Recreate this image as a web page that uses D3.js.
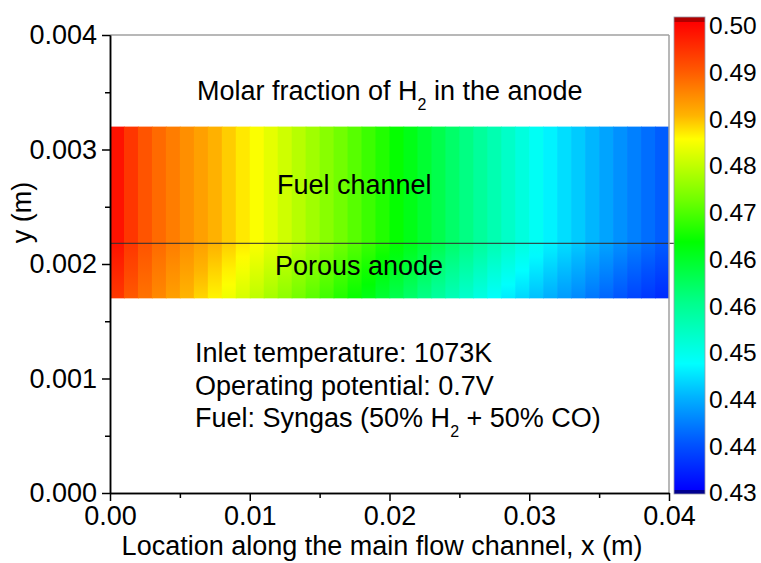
<!DOCTYPE html>
<html>
<head>
<meta charset="utf-8">
<script src="https://cdn.jsdelivr.net/npm/d3@7/dist/d3.min.js"></script>
<style>
  body { margin: 0; background: #fff; }
  svg text { font-family: "Liberation Sans", Arial, sans-serif; fill: #000; }
</style>
</head>
<body>
<svg id="chart" width="761" height="563"></svg>
<script>
// ---- data ----
// left edges of the 1 mm grid columns along the channel (m)
const cellX = [
  0.000, 0.001, 0.002, 0.003, 0.004, 0.005, 0.006, 0.007, 0.008, 0.009,
  0.010, 0.011, 0.012, 0.013, 0.014, 0.015, 0.016, 0.017, 0.018, 0.019,
  0.020, 0.021, 0.022, 0.023, 0.024, 0.025, 0.026, 0.027, 0.028, 0.029,
  0.030, 0.031, 0.032, 0.033, 0.034, 0.035, 0.036, 0.037, 0.038, 0.039
];
const cellWidth = 0.001;

// H2 molar fraction in the fuel channel (and at the channel/anode interface)
const channelFrac = [
  0.4985, 0.4955, 0.4930, 0.4913, 0.4899, 0.4886, 0.4873, 0.4860, 0.4846, 0.4833,
  0.4820, 0.4806, 0.4791, 0.4776, 0.4761, 0.4746, 0.4731, 0.4716, 0.4700, 0.4685,
  0.4669, 0.4652, 0.4634, 0.4616, 0.4598, 0.4580, 0.4562, 0.4544, 0.4526, 0.4508,
  0.4490, 0.4474, 0.4460, 0.4447, 0.4433, 0.4420, 0.4406, 0.4393, 0.4380, 0.4367
];
// H2 molar fraction at the bottom of the porous anode
const anodeBottomFrac = [
  0.4953, 0.4926, 0.4907, 0.4890, 0.4873, 0.4858, 0.4842, 0.4827, 0.4812, 0.4796,
  0.4780, 0.4764, 0.4749, 0.4732, 0.4717, 0.4702, 0.4685, 0.4669, 0.4652, 0.4632,
  0.4614, 0.4596, 0.4576, 0.4558, 0.4539, 0.4521, 0.4503, 0.4484, 0.4469, 0.4455,
  0.4440, 0.4427, 0.4413, 0.4400, 0.4386, 0.4373, 0.4360, 0.4347, 0.4336, 0.4326
];

// layer boundaries (m): channel top, channel/anode interface, anode bottom
const layerY = [0.0032, 0.00218, 0.0017];

const xTicks = [0.00, 0.01, 0.02, 0.03, 0.04];
const xMinorTicks = [0.005, 0.015, 0.025, 0.035];
const yTicks = [0.000, 0.001, 0.002, 0.003, 0.004];
const yMinorTicks = [0.0005, 0.0015, 0.0025, 0.0035];

const cbTickValues = [0.5, 0.4929, 0.4858, 0.4787, 0.4716, 0.4645, 0.4574, 0.4503, 0.4432, 0.4361, 0.429];
const cbTickLabels = ["0.50", "0.49", "0.49", "0.48", "0.47", "0.46", "0.46", "0.45", "0.44", "0.44", "0.43"];

// ---- layout ----
const svg = d3.select("#chart");
const W = 761, H = 563;
const margin = { left: 110, right: 92, top: 35, bottom: 70 };
const FONT = 27;
const SUB = 16;

const x = d3.scaleLinear().domain([0, 0.04]).range([margin.left, W - margin.right]);
const y = d3.scaleLinear().domain([0, 0.004]).range([H - margin.bottom, margin.top]);

// rainbow palette (Origin style), positions are fractions of the colour range
const cbMin = d3.min(cbTickValues), cbMax = d3.max(cbTickValues);
const palette = [
  [0.00, "#0000ff"], [0.10, "#0055ff"], [0.20, "#00b4ff"], [0.27, "#00ffff"],
  [0.40, "#00ff8c"], [0.53, "#00ff00"], [0.62, "#70ff00"], [0.75, "#ffff00"],
  [0.80, "#ffb400"], [0.90, "#ff5500"], [1.00, "#ff0000"]
];
const color = d3.scaleLinear()
  .domain(palette.map((p) => cbMin + p[0] * (cbMax - cbMin)))
  .range(palette.map((p) => p[1]))
  .interpolate(d3.interpolateRgb)
  .clamp(true);

const defs = svg.append("defs");

// ---- field ----
const fieldG = svg.append("g");
const cw = x(cellWidth) - x(0);

// fuel channel
fieldG.selectAll(".ch")
  .data(cellX)
  .join("rect")
  .attr("class", "ch")
  .attr("x", (d) => x(d))
  .attr("y", y(layerY[0]))
  .attr("width", (d, i) => (i === cellX.length - 1 ? cw : cw + 0.7))
  .attr("height", y(layerY[1]) - y(layerY[0]))
  .attr("fill", (d, i) => color(channelFrac[i]));

// porous anode: each column shades from interface value to bottom value
cellX.forEach((d, i) => {
  const g = defs.append("linearGradient")
    .attr("id", "an" + i)
    .attr("x1", 0).attr("y1", 0).attr("x2", 0).attr("y2", 1);
  d3.range(0, 1.0001, 0.25).forEach((f) => {
    const v = channelFrac[i] + f * (anodeBottomFrac[i] - channelFrac[i]);
    g.append("stop").attr("offset", f).attr("stop-color", color(v));
  });
});
fieldG.selectAll(".an")
  .data(cellX)
  .join("rect")
  .attr("class", "an")
  .attr("x", (d) => x(d))
  .attr("y", y(layerY[1]) - 0.5)
  .attr("width", (d, i) => (i === cellX.length - 1 ? cw : cw + 0.7))
  .attr("height", y(layerY[2]) - y(layerY[1]) + 0.5)
  .attr("fill", (d, i) => `url(#an${i})`);

// interface line
svg.append("line")
  .attr("x1", x(0)).attr("x2", x(0.04) + 7)
  .attr("y1", y(layerY[1])).attr("y2", y(layerY[1]))
  .attr("stroke", "#333").attr("stroke-width", 1.2).attr("stroke-opacity", 0.85);

// ---- frame & axes ----
svg.append("line")
  .attr("x1", x(0)).attr("x2", x(0.04)).attr("y1", y(0.004)).attr("y2", y(0.004))
  .attr("stroke", "#a0a0a0").attr("stroke-width", 1.5);
svg.append("line")
  .attr("x1", x(0.04)).attr("x2", x(0.04)).attr("y1", y(0.004)).attr("y2", y(0))
  .attr("stroke", "#a0a0a0").attr("stroke-width", 1.5);

const styleAxis = (g) => {
  g.select(".domain").attr("stroke", "#000").attr("stroke-width", 1.5);
  g.selectAll(".tick line").attr("stroke", "#000").attr("stroke-width", 1.5);
  g.selectAll("text").attr("font-size", FONT).attr("fill", "#000");
};

svg.append("g")
  .attr("transform", `translate(0,${y(0)})`)
  .call(d3.axisBottom(x).tickValues(xMinorTicks).tickSize(5).tickSizeOuter(0).tickFormat(""))
  .call(styleAxis);
svg.append("g")
  .attr("transform", `translate(0,${y(0)})`)
  .call(d3.axisBottom(x).tickValues(xTicks).tickSize(8).tickSizeOuter(0).tickPadding(5).tickFormat(d3.format(".2f")))
  .call(styleAxis);

svg.append("g")
  .attr("transform", `translate(${x(0)},0)`)
  .call(d3.axisLeft(y).tickValues(yMinorTicks).tickSize(5).tickSizeOuter(0).tickFormat(""))
  .call(styleAxis);
svg.append("g")
  .attr("transform", `translate(${x(0)},0)`)
  .call(d3.axisLeft(y).tickValues(yTicks).tickSize(8).tickSizeOuter(0).tickPadding(5).tickFormat(d3.format(".3f")))
  .call(styleAxis);

// axis titles
svg.append("text")
  .attr("x", 382).attr("y", 555)
  .attr("text-anchor", "middle").attr("font-size", FONT)
  .text("Location along the main flow channel, x (m)");
svg.append("text")
  .attr("transform", `translate(31,${y(0.00245)}) rotate(-90)`)
  .attr("text-anchor", "middle").attr("font-size", FONT)
  .text("y (m)");

// ---- annotations ----
const title = svg.append("text").attr("x", 197).attr("y", 100).attr("font-size", FONT);
title.append("tspan").text("Molar fraction of H");
title.append("tspan").attr("font-size", SUB).attr("dy", 10).text("2");
title.append("tspan").attr("dy", -10).text(" in the anode");

svg.append("text").attr("x", 277).attr("y", 194).attr("font-size", FONT).text("Fuel channel");
svg.append("text").attr("x", 275).attr("y", 275).attr("font-size", FONT).text("Porous anode");

svg.append("text").attr("x", 195).attr("y", 362).attr("font-size", FONT).text("Inlet temperature: 1073K");
svg.append("text").attr("x", 195).attr("y", 395).attr("font-size", FONT).text("Operating potential: 0.7V");
const fuel = svg.append("text").attr("x", 195).attr("y", 427).attr("font-size", FONT);
fuel.append("tspan").text("Fuel: Syngas (50% H");
fuel.append("tspan").attr("font-size", SUB).attr("dy", 10).text("2");
fuel.append("tspan").attr("dy", -10).text(" + 50% CO)");

// ---- colour bar ----
const cbX = 674, cbW = 31;
const cbY = d3.scaleLinear().domain([cbMin, cbMax]).range([490, 22]);
const cbGrad = defs.append("linearGradient")
  .attr("id", "cb").attr("x1", 0).attr("y1", 1).attr("x2", 0).attr("y2", 0);
palette.forEach((p) => cbGrad.append("stop").attr("offset", p[0]).attr("stop-color", p[1]));

svg.append("rect").attr("x", cbX).attr("y", 17).attr("width", cbW).attr("height", cbY(cbMax) - 17)
  .attr("fill", "#b00000");
svg.append("rect").attr("x", cbX).attr("y", cbY(cbMin)).attr("width", cbW).attr("height", 494 - cbY(cbMin))
  .attr("fill", "#000090");
svg.append("rect")
  .attr("x", cbX).attr("y", cbY(cbMax)).attr("width", cbW).attr("height", cbY(cbMin) - cbY(cbMax))
  .attr("fill", "url(#cb)");
svg.append("rect").attr("x", cbX).attr("y", 17).attr("width", cbW).attr("height", 477)
  .attr("fill", "none").attr("stroke", "#9a9aa8").attr("stroke-width", 0.8);

const cbLabelY = d3.scaleLinear().domain([cbMin, cbMax]).range([493, 26]);
svg.append("g")
  .attr("transform", `translate(${cbX + cbW},0)`)
  .call(d3.axisRight(cbLabelY).tickValues(cbTickValues).tickSize(0).tickPadding(4)
    .tickFormat((d, i) => cbTickLabels[i]))
  .call((g) => g.select(".domain").remove())
  .call((g) => g.selectAll("text").attr("font-size", 24.5).attr("fill", "#000"));
</script>
</body>
</html>
